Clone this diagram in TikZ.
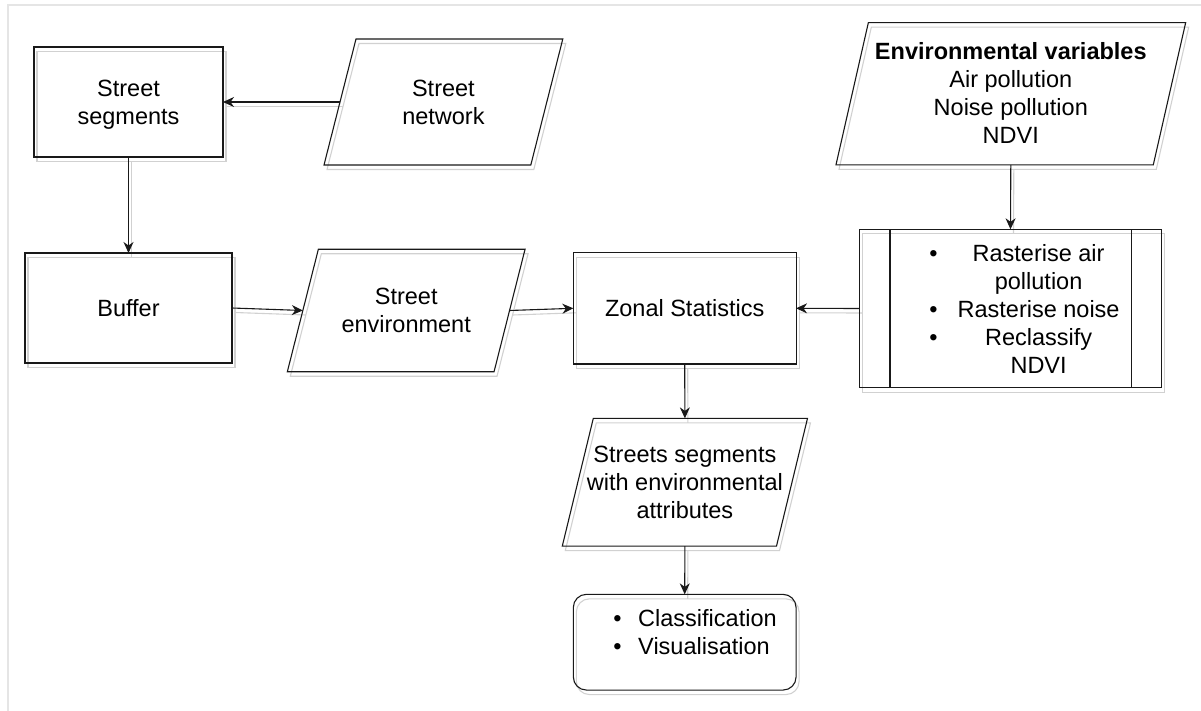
\documentclass[tikz,border=0pt]{standalone}
\usepackage{fontspec}
\setmainfont{Liberation Sans}
\usetikzlibrary{arrows.meta}
\pgfdeclarelayer{bg}
\pgfsetlayers{bg,main}
\newcommand\lstrut{\rule[-5.8pt]{0pt}{28pt}}
\newcommand\parapath[3]{%
  \draw[#3] ([xshift=#2]#1.north west) -- ([xshift=#2]#1.north east) -- ([xshift=-#2]#1.south east) -- ([xshift=-#2]#1.south west) -- cycle;}
\begin{document}
\begin{tikzpicture}[x=1pt,y=-1pt,
  line/.style={draw=black!90, line width=1.1pt},
  shad/.style={draw=black!18, line width=1.1pt, transform canvas={xshift=3pt,yshift=-4.5pt}},
  txt/.style={font=\fontsize{23.5}{28}\selectfont, align=center, text=black},
  blk/.style={rectangle, line, txt, inner sep=0pt, outer sep=0pt},
  pg/.style={rectangle, txt, inner sep=0pt, outer sep=0pt},
  arr/.style={line, -{Stealth[length=11pt,width=10pt,inset=3.5pt]}},
]
\useasboundingbox (0,0) rectangle (1201,711);

% nodes
\node[blk, minimum width=189pt, minimum height=110pt] (seg) at (128.5,102) {\lstrut Street\\\lstrut segments};
\node[pg, minimum width=206.8pt, minimum height=126pt] (net) at (443.4,102) {\lstrut Street\\\lstrut network};
\node[blk, minimum width=207pt, minimum height=110pt] (buf) at (128.5,308) {\lstrut Buffer};
\node[pg, minimum width=206.7pt, minimum height=122.4pt] (env) at (406.2,310.5) {\lstrut Street\\\lstrut environment};
\node[blk, minimum width=222.7pt, minimum height=111.3pt] (zon) at (684.7,308.3) {\lstrut Zonal Statistics};
\node[blk, minimum width=302.4pt, minimum height=158.4pt] (proc) at (1010.5,308.5) {};
\node[pg, minimum width=317.3pt, minimum height=142.3pt] (var) at (1010.8,93.8) {\lstrut\textbf{Environmental variables}\\\lstrut Air pollution\hspace*{9pt}\\\lstrut Noise pollution\\\lstrut NDVI};
\node[pg, minimum width=214.2pt, minimum height=127.7pt] (att) at (684.9,482.2) {\lstrut Streets segments\\\lstrut with environmental\\\lstrut attributes};
\node[blk, rounded corners=13pt, minimum width=222.7pt, minimum height=95.7pt] (cls) at (684.7,642.2) {};

% list texts
\node[txt, anchor=west, inner sep=0pt] (proctxt) at (929.2,311.5) {\begin{tabular}{@{}c@{\hspace{20pt}}c@{}}\textbullet & Rasterise air\\ & pollution\\ \textbullet & Rasterise noise\\ \textbullet & Reclassify\\ & NDVI\end{tabular}};
\node[txt, anchor=west, inner sep=0pt] (clstxt) at (613.2,635.3) {\begin{tabular}{@{}l@{\hspace{16.6pt}}l@{}}\textbullet & Classification\\ \textbullet & Visualisation\end{tabular}};

% parallelogram outlines
\parapath{net}{16pt}{line}
\parapath{env}{15.5pt}{line}
\parapath{var}{16.2pt}{line}
\parapath{att}{15.5pt}{line}

% process box inner lines
\draw[line] ([xshift=30.7pt]proc.north west) -- ([xshift=30.7pt]proc.south west);
\draw[line] ([xshift=-30pt]proc.north east) -- ([xshift=-30pt]proc.south east);

% connectors
\draw[arr] (net.west) -- (seg.east);
\draw[arr] (seg.south) -- (buf.north);
\draw[arr] (buf.east) -- (env.west);
\draw[arr] (env.east) -- (zon.west);
\draw[arr] (proc.west) -- (zon.east);
\draw[arr] (var.south) -- (proc.north);
\draw[arr] (zon.south) -- (att.north);
\draw[arr] (att.south) -- (cls.north);

% shadows and frame
\begin{pgfonlayer}{bg}
  \draw[black!10, line width=2pt] (7.5,711) -- (7.5,5) -- (1201,5);
  \draw[shad] (seg.north west) rectangle (seg.south east);
  \draw[shad] (buf.north west) rectangle (buf.south east);
  \draw[shad] (zon.north west) rectangle (zon.south east);
  \draw[shad] (proc.north west) rectangle (proc.south east);
  \draw[shad, rounded corners=13pt] (cls.north west) rectangle (cls.south east);
  \parapath{net}{16pt}{shad}
  \parapath{env}{15.5pt}{shad}
  \parapath{var}{16.2pt}{shad}
  \parapath{att}{15.5pt}{shad}
  \draw[shad] (net.west) -- (seg.east);
  \draw[shad] (seg.south) -- (buf.north);
  \draw[shad] (buf.east) -- (env.west);
  \draw[shad] (env.east) -- (zon.west);
  \draw[shad] (proc.west) -- (zon.east);
  \draw[shad] (var.south) -- (proc.north);
  \draw[shad] (zon.south) -- (att.north);
  \draw[shad] (att.south) -- (cls.north);
\end{pgfonlayer}
\end{tikzpicture}
\end{document}
